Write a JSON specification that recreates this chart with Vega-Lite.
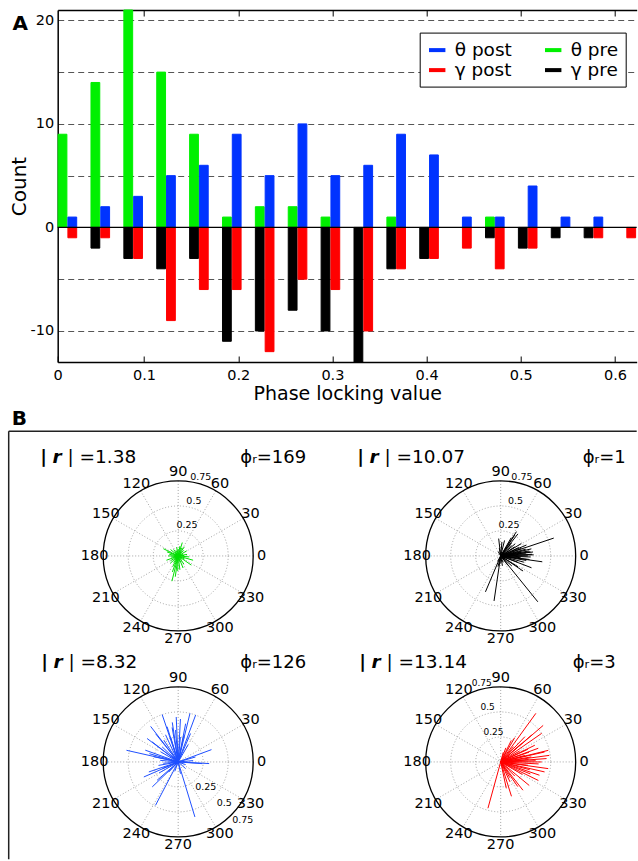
{
"$schema": "https://vega.github.io/schema/vega-lite/v6.json",
"padding": {"left": 7.7, "top": 9, "right": 0, "bottom": 0},
"autosize": {"type": "pad"},
"bounds": "flush",
"spacing": 69.25,
"config": {
  "font": "DejaVu Sans",
  "view": {"stroke": null},
  "axis": {"labelFont": "DejaVu Sans", "titleFont": "DejaVu Sans", "labelColor": "#000", "titleColor": "#000", "titleFontWeight": "normal"},
  "legend": {"labelFont": "DejaVu Sans"},
  "text": {"font": "DejaVu Sans", "color": "#000"}
},
"datasets": {
  "hist": [
    {"plv":0.0187,"series":"θ pre","count":9},{"plv":0.0187,"series":"θ post","count":1},{"plv":0.0187,"series":"γ post","count":-1},
    {"plv":0.0536,"series":"θ pre","count":14},{"plv":0.0536,"series":"θ post","count":2},{"plv":0.0536,"series":"γ pre","count":-2},{"plv":0.0536,"series":"γ post","count":-1},
    {"plv":0.0885,"series":"θ pre","count":21},{"plv":0.0885,"series":"θ post","count":3},{"plv":0.0885,"series":"γ pre","count":-3},{"plv":0.0885,"series":"γ post","count":-3},
    {"plv":0.1234,"series":"θ pre","count":15},{"plv":0.1234,"series":"θ post","count":5},{"plv":0.1234,"series":"γ pre","count":-4},{"plv":0.1234,"series":"γ post","count":-9},
    {"plv":0.1583,"series":"θ pre","count":9},{"plv":0.1583,"series":"θ post","count":6},{"plv":0.1583,"series":"γ pre","count":-3},{"plv":0.1583,"series":"γ post","count":-6},
    {"plv":0.1932,"series":"θ pre","count":1},{"plv":0.1932,"series":"θ post","count":9},{"plv":0.1932,"series":"γ pre","count":-11},{"plv":0.1932,"series":"γ post","count":-6},
    {"plv":0.2281,"series":"θ pre","count":2},{"plv":0.2281,"series":"θ post","count":5},{"plv":0.2281,"series":"γ pre","count":-10},{"plv":0.2281,"series":"γ post","count":-12},
    {"plv":0.263,"series":"θ pre","count":2},{"plv":0.263,"series":"θ post","count":10},{"plv":0.263,"series":"γ pre","count":-8},{"plv":0.263,"series":"γ post","count":-5},
    {"plv":0.2979,"series":"θ pre","count":1},{"plv":0.2979,"series":"θ post","count":5},{"plv":0.2979,"series":"γ pre","count":-10},{"plv":0.2979,"series":"γ post","count":-6},
    {"plv":0.3328,"series":"θ post","count":6},{"plv":0.3328,"series":"γ pre","count":-13},{"plv":0.3328,"series":"γ post","count":-10},
    {"plv":0.3677,"series":"θ pre","count":1},{"plv":0.3677,"series":"θ post","count":9},{"plv":0.3677,"series":"γ pre","count":-4},{"plv":0.3677,"series":"γ post","count":-4},
    {"plv":0.4026,"series":"θ post","count":7},{"plv":0.4026,"series":"γ pre","count":-3},{"plv":0.4026,"series":"γ post","count":-3},
    {"plv":0.4375,"series":"θ post","count":1},{"plv":0.4375,"series":"γ post","count":-2},
    {"plv":0.4724,"series":"θ pre","count":1},{"plv":0.4724,"series":"θ post","count":1},{"plv":0.4724,"series":"γ pre","count":-1},{"plv":0.4724,"series":"γ post","count":-4},
    {"plv":0.5073,"series":"θ post","count":4},{"plv":0.5073,"series":"γ pre","count":-2},{"plv":0.5073,"series":"γ post","count":-2},
    {"plv":0.5422,"series":"θ post","count":1},{"plv":0.5422,"series":"γ pre","count":-1},
    {"plv":0.5771,"series":"θ post","count":1},{"plv":0.5771,"series":"γ pre","count":-1},{"plv":0.5771,"series":"γ post","count":-1},
    {"plv":0.612,"series":"γ post","count":-1}
  ],
  "rings": [{"v":0.25,"t":"0.25"},{"v":0.5,"t":"0.5"},{"v":0.75,"t":"0.75"}],
  "radials": [{"a":0},{"a":30},{"a":60},{"a":90},{"a":120},{"a":150}],
  "angles": [{"a":0,"t":"0"},{"a":30,"t":"30"},{"a":60,"t":"60"},{"a":90,"t":"90"},{"a":120,"t":"120"},{"a":150,"t":"150"},{"a":180,"t":"180"},{"a":210,"t":"210"},{"a":240,"t":"240"},{"a":270,"t":"270"},{"a":300,"t":"300"},{"a":330,"t":"330"}],
  "titles": [{"p":1,"rv":"1.38","phi":"169"},{"p":2,"rv":"10.07","phi":"1"},{"p":3,"rv":"8.32","phi":"126"},{"p":4,"rv":"13.14","phi":"3"}],
  "spokes": [
    {"p":1,"a":256,"r":0.26},{"p":1,"a":262,"r":0.21},{"p":1,"a":250,"r":0.17},{"p":1,"a":268,"r":0.15},{"p":1,"a":277,"r":0.14},{"p":1,"a":292,"r":0.13},{"p":1,"a":305,"r":0.1},{"p":1,"a":325,"r":0.16},{"p":1,"a":344,"r":0.155},{"p":1,"a":355,"r":0.11},{"p":1,"a":10,"r":0.09},{"p":1,"a":31,"r":0.1},{"p":1,"a":45,"r":0.08},{"p":1,"a":56,"r":0.11},{"p":1,"a":65,"r":0.09},{"p":1,"a":73,"r":0.14},{"p":1,"a":80,"r":0.1},{"p":1,"a":90,"r":0.07},{"p":1,"a":100,"r":0.09},{"p":1,"a":112,"r":0.06},{"p":1,"a":125,"r":0.08},{"p":1,"a":140,"r":0.1},{"p":1,"a":154,"r":0.165},{"p":1,"a":160,"r":0.12},{"p":1,"a":170,"r":0.09},{"p":1,"a":180,"r":0.1},{"p":1,"a":190,"r":0.07},{"p":1,"a":200,"r":0.125},{"p":1,"a":212,"r":0.09},{"p":1,"a":223,"r":0.11},{"p":1,"a":235,"r":0.08},{"p":1,"a":243,"r":0.12},{"p":1,"a":285,"r":0.06},{"p":1,"a":315,"r":0.05},{"p":1,"a":335,"r":0.07},{"p":1,"a":20,"r":0.05},{"p":1,"a":130,"r":0.05},{"p":1,"a":205,"r":0.04},{"p":1,"a":240,"r":0.05},{"p":1,"a":5,"r":0.06},
    {"p":2,"a":18.6,"r":0.56},{"p":2,"a":352,"r":0.42},{"p":2,"a":309,"r":0.59},{"p":2,"a":261.6,"r":0.455},{"p":2,"a":247,"r":0.39},{"p":2,"a":96.6,"r":0.175},{"p":2,"a":57,"r":0.29},{"p":2,"a":52,"r":0.28},{"p":2,"a":56,"r":0.25},{"p":2,"a":60,"r":0.21},{"p":2,"a":31,"r":0.24},{"p":2,"a":23,"r":0.28},{"p":2,"a":13,"r":0.315},{"p":2,"a":7,"r":0.326},{"p":2,"a":3,"r":0.314},{"p":2,"a":358,"r":0.3},{"p":2,"a":353,"r":0.29},{"p":2,"a":339,"r":0.33},{"p":2,"a":326,"r":0.27},{"p":2,"a":328,"r":0.205},{"p":2,"a":11,"r":0.21},{"p":2,"a":33,"r":0.166},{"p":2,"a":50,"r":0.17},{"p":2,"a":76,"r":0.16},{"p":2,"a":85,"r":0.14},{"p":2,"a":256,"r":0.11},{"p":2,"a":308,"r":0.12},{"p":2,"a":0,"r":0.27},{"p":2,"a":5,"r":0.25},{"p":2,"a":10,"r":0.29},{"p":2,"a":15,"r":0.26},{"p":2,"a":20,"r":0.22},{"p":2,"a":25,"r":0.2},{"p":2,"a":40,"r":0.19},{"p":2,"a":45,"r":0.15},{"p":2,"a":350,"r":0.26},{"p":2,"a":345,"r":0.24},{"p":2,"a":355,"r":0.2},{"p":2,"a":340,"r":0.18},{"p":2,"a":318,"r":0.15},{"p":2,"a":2,"r":0.33},{"p":2,"a":8,"r":0.3},{"p":2,"a":265,"r":0.08},{"p":2,"a":280,"r":0.1},{"p":2,"a":290,"r":0.07},{"p":2,"a":240,"r":0.06},{"p":2,"a":120,"r":0.05},{"p":2,"a":100,"r":0.08},
    {"p":3,"a":108.7,"r":0.5},{"p":3,"a":92.5,"r":0.45},{"p":3,"a":76.4,"r":0.5},{"p":3,"a":69.6,"r":0.5},{"p":3,"a":79,"r":0.39},{"p":3,"a":87,"r":0.43},{"p":3,"a":98.5,"r":0.4},{"p":3,"a":107.5,"r":0.37},{"p":3,"a":127.8,"r":0.45},{"p":3,"a":128.7,"r":0.36},{"p":3,"a":143,"r":0.39},{"p":3,"a":142.4,"r":0.33},{"p":3,"a":167.3,"r":0.53},{"p":3,"a":160.3,"r":0.35},{"p":3,"a":164,"r":0.3},{"p":3,"a":168,"r":0.25},{"p":3,"a":203.6,"r":0.375},{"p":3,"a":198.8,"r":0.31},{"p":3,"a":223.9,"r":0.36},{"p":3,"a":221,"r":0.28},{"p":3,"a":242.4,"r":0.49},{"p":3,"a":286.9,"r":0.575},{"p":3,"a":20.3,"r":0.355},{"p":3,"a":357,"r":0.31},{"p":3,"a":356,"r":0.24},{"p":3,"a":16,"r":0.18},{"p":3,"a":66.5,"r":0.31},{"p":3,"a":78,"r":0.27},{"p":3,"a":94.8,"r":0.32},{"p":3,"a":107,"r":0.26},{"p":3,"a":123.5,"r":0.26},{"p":3,"a":136.8,"r":0.22},{"p":3,"a":190,"r":0.2},{"p":3,"a":202.6,"r":0.17},{"p":3,"a":227,"r":0.14},{"p":3,"a":281,"r":0.12},{"p":3,"a":318,"r":0.1},{"p":3,"a":60,"r":0.2},{"p":3,"a":115,"r":0.3},{"p":3,"a":150,"r":0.2},{"p":3,"a":175,"r":0.18},{"p":3,"a":185,"r":0.15},{"p":3,"a":210,"r":0.22},{"p":3,"a":250,"r":0.1},{"p":3,"a":5,"r":0.15},{"p":3,"a":340,"r":0.08},{"p":3,"a":100,"r":0.35},{"p":3,"a":85,"r":0.25},
    {"p":4,"a":54.1,"r":0.6},{"p":4,"a":40.7,"r":0.56},{"p":4,"a":34.9,"r":0.5},{"p":4,"a":41,"r":0.41},{"p":4,"a":46.2,"r":0.35},{"p":4,"a":60.1,"r":0.28},{"p":4,"a":63.8,"r":0.24},{"p":4,"a":41.6,"r":0.28},{"p":4,"a":26.1,"r":0.38},{"p":4,"a":13.7,"r":0.49},{"p":4,"a":12.8,"r":0.45},{"p":4,"a":7.7,"r":0.49},{"p":4,"a":4.2,"r":0.46},{"p":4,"a":0,"r":0.41},{"p":4,"a":352,"r":0.48},{"p":4,"a":347.2,"r":0.45},{"p":4,"a":341.1,"r":0.41},{"p":4,"a":333.8,"r":0.42},{"p":4,"a":320.5,"r":0.37},{"p":4,"a":308.2,"r":0.36},{"p":4,"a":304.7,"r":0.3},{"p":4,"a":287.4,"r":0.36},{"p":4,"a":282,"r":0.27},{"p":4,"a":254.6,"r":0.48},{"p":4,"a":353,"r":0.275},{"p":4,"a":9.3,"r":0.31},{"p":4,"a":19,"r":0.3},{"p":4,"a":30,"r":0.22},{"p":4,"a":50,"r":0.2},{"p":4,"a":70,"r":0.15},{"p":4,"a":2,"r":0.35},{"p":4,"a":357,"r":0.38},{"p":4,"a":345,"r":0.3},{"p":4,"a":330,"r":0.25},{"p":4,"a":315,"r":0.2},{"p":4,"a":300,"r":0.18},{"p":4,"a":20,"r":0.4},{"p":4,"a":25,"r":0.3},{"p":4,"a":15,"r":0.25},{"p":4,"a":5,"r":0.28},{"p":4,"a":338,"r":0.32},{"p":4,"a":295,"r":0.22},{"p":4,"a":75,"r":0.1}
  ]
},
"vconcat": [
{
  "width": 628, "height": 352,
  "resolve": {"axis": {"x": "independent", "y": "independent"}},
  "layer": [
    {
      "data": {"name": "hist"},
      "transform": [{"filter": "indexof(datum.series, 'pre') >= 0"}],
      "mark": {"type": "bar", "width": 8.8, "xOffset": -4.9},
      "encoding": {
        "x": {"field": "plv", "type": "quantitative", "scale": {"domain": [0.0084, 0.623], "range": [49, 628], "padding": 0, "nice": false, "zero": false},
              "axis": {"orient": "bottom", "values": [0.0084, 0.1, 0.2, 0.3, 0.4, 0.5, 0.6], "labelExpr": "datum.value < 0.05 ? '0' : format(datum.value, '.1f')", "labelFlush": false, "labelOverlap": false, "tickSize": -6, "tickColor": "#000", "tickWidth": 1, "labelPadding": 12, "labelFontSize": 14.5, "domain": true, "domainColor": "#000", "domainWidth": 1.5, "grid": false, "title": "Phase locking value", "titleFontSize": 19, "titlePadding": 3}},
        "y": {"field": "count", "type": "quantitative", "stack": null, "scale": {"domain": [-13, 21], "nice": false},
              "axis": {"orient": "left", "offset": -49, "values": [-10, -5, 0, 5, 10, 15, 20], "labelExpr": "datum.value % 10 === 0 ? '' + datum.value : ''", "ticks": false, "labelPadding": 4, "labelFontSize": 14.5, "domain": true, "domainColor": "#000", "domainWidth": 1.5, "grid": true, "gridColor": "#555", "gridDash": [6, 4], "gridWidth": 1, "title": "Count", "titleFontSize": 20, "titlePadding": 1}},
        "fill": {"field": "series", "type": "nominal", "scale": {"domain": ["θ post", "γ post", "θ pre", "γ pre"], "range": ["#0033ff", "#ff0000", "#00f000", "#000000"]},
                 "legend": {"title": null, "orient": "none", "legendX": 411, "legendY": 22.6, "columns": 2, "symbolType": "stroke", "symbolSize": 270, "symbolStrokeWidth": 4, "labelFontSize": 18.5, "labelOffset": 7, "columnPadding": 24, "rowPadding": 0, "padding": 7, "strokeColor": "#000", "fillColor": "#fff", "labelLimit": 0, "encode": {"symbols": {"update": {"strokeWidth": {"value": 4}}}}}},
        "stroke": {"field": "series", "type": "nominal", "scale": {"domain": ["θ post", "γ post", "θ pre", "γ pre"], "range": ["#0033ff", "#ff0000", "#00f000", "#000000"]},
                   "legend": {"title": null, "orient": "none", "legendX": 411, "legendY": 22.6, "columns": 2, "symbolType": "stroke", "symbolSize": 270, "symbolStrokeWidth": 4, "labelFontSize": 18.5, "labelOffset": 7, "columnPadding": 24, "rowPadding": 0, "padding": 7, "strokeColor": "#000", "fillColor": "#fff", "labelLimit": 0, "encode": {"symbols": {"update": {"strokeWidth": {"value": 4}}}}}}
      }
    },
    {
      "data": {"name": "hist"},
      "transform": [{"filter": "indexof(datum.series, 'post') >= 0"}],
      "mark": {"type": "bar", "width": 8.8, "xOffset": 4.9},
      "encoding": {
        "x": {"field": "plv", "type": "quantitative", "axis": null},
        "y": {"field": "count", "type": "quantitative", "stack": null, "axis": null},
        "fill": {"field": "series", "type": "nominal", "scale": {"domain": ["θ post", "γ post", "θ pre", "γ pre"], "range": ["#0033ff", "#ff0000", "#00f000", "#000000"]},
                 "legend": {"title": null, "orient": "none", "legendX": 411, "legendY": 22.6, "columns": 2, "symbolType": "stroke", "symbolSize": 270, "symbolStrokeWidth": 4, "labelFontSize": 18.5, "labelOffset": 7, "columnPadding": 24, "rowPadding": 0, "padding": 7, "strokeColor": "#000", "fillColor": "#fff", "labelLimit": 0, "encode": {"symbols": {"update": {"strokeWidth": {"value": 4}}}}}},
        "stroke": {"field": "series", "type": "nominal", "scale": {"domain": ["θ post", "γ post", "θ pre", "γ pre"], "range": ["#0033ff", "#ff0000", "#00f000", "#000000"]},
                   "legend": {"title": null, "orient": "none", "legendX": 411, "legendY": 22.6, "columns": 2, "symbolType": "stroke", "symbolSize": 270, "symbolStrokeWidth": 4, "labelFontSize": 18.5, "labelOffset": 7, "columnPadding": 24, "rowPadding": 0, "padding": 7, "strokeColor": "#000", "fillColor": "#fff", "labelLimit": 0, "encode": {"symbols": {"update": {"strokeWidth": {"value": 4}}}}}}
      }
    },
    {
      "data": {"values": [{}]},
      "mark": {"type": "rule", "color": "#000", "strokeWidth": 1.3},
      "encoding": {"x": {"datum": 0.0084, "type": "quantitative", "axis": null}, "x2": {"datum": 0.623}, "y": {"datum": 0, "type": "quantitative", "axis": null}}
    },
    {
      "data": {"values": [{}]},
      "mark": {"type": "rule", "opacity": 0},
      "encoding": {"x": {"datum": 0.3, "type": "quantitative",
        "axis": {"orient": "top", "values": [0.1, 0.2, 0.3, 0.4, 0.5, 0.6], "labels": false, "tickSize": -6, "tickColor": "#000", "tickWidth": 1, "domain": true, "domainColor": "#000", "domainWidth": 1.5, "grid": false, "title": null}}}
    },
    {
      "data": {"values": [{}]},
      "mark": {"type": "text", "text": "A", "fontSize": 20, "fontWeight": "bold", "align": "left", "baseline": "alphabetic", "dx": -45.3, "dy": 20.3},
      "encoding": {"x": {"datum": 0.0084, "type": "quantitative", "axis": null}, "y": {"datum": 21, "type": "quantitative", "axis": null}}
    },
    {
      "data": {"values": [{}]},
      "mark": {"type": "text", "text": "B", "fontSize": 20, "fontWeight": "bold", "align": "left", "baseline": "alphabetic", "dx": -46, "dy": 63},
      "encoding": {"x": {"datum": 0.0084, "type": "quantitative", "axis": null}, "y": {"datum": -13, "type": "quantitative", "axis": null}}
    }
  ]
},
{
  "width": 628, "height": 428,
  "resolve": {"scale": {"x": "independent", "y": "independent"}},
  "layer": [
    {
      "data": {"values": [{}]},
      "layer": [
        {"mark": {"type": "rule", "color": "#222", "strokeWidth": 1.5}, "encoding": {"x": {"datum": 0, "type": "quantitative", "scale": {"domain": [0, 1]}, "axis": null}}},
        {"mark": {"type": "rule", "color": "#222", "strokeWidth": 1.5}, "encoding": {"y": {"datum": 1, "type": "quantitative", "scale": {"domain": [0, 1]}, "axis": null}}}
      ]
    },
    {
      "encoding": {
        "x": {"field": "px", "type": "quantitative", "scale": {"domain": [-1.695, 4.585], "nice": false, "zero": false}, "axis": null},
        "y": {"field": "py", "type": "quantitative", "scale": {"domain": [-3.033, 1.247], "nice": false, "zero": false}, "axis": null}
      },
      "layer": [
        {"data": {"name": "rings"}, "transform": [{"filter": "datum.v < 0.7"}, {"calculate": "0", "as": "px"}, {"calculate": "0", "as": "py"}], "mark": {"type": "point", "shape": "circle", "filled": false, "color": "#9a9a9a", "strokeWidth": 0.9, "strokeDash": [1, 2], "opacity": 1}, "encoding": {"size": {"field": "v", "type": "quantitative", "scale": {"type": "pow", "exponent": 2, "domain": [0, 0.75], "range": [0, 22500]}, "legend": null}}},
        {"data": {"name": "radials"}, "transform": [{"calculate": "0.75*cos(datum.a*PI/180)", "as": "px"}, {"calculate": "0.75*sin(datum.a*PI/180)", "as": "py"}, {"calculate": "-datum.px", "as": "qx"}, {"calculate": "-datum.py", "as": "qy"}], "mark": {"type": "rule", "color": "#9a9a9a", "strokeWidth": 0.9, "strokeDash": [1, 2]}, "encoding": {"x2": {"field": "qx"}, "y2": {"field": "qy"}}},
        {"data": {"name": "rings"}, "transform": [{"filter": "datum.v > 0.7"}, {"calculate": "0", "as": "px"}, {"calculate": "0", "as": "py"}], "mark": {"type": "point", "shape": "circle", "filled": false, "color": "#000", "strokeWidth": 1.3, "opacity": 1}, "encoding": {"size": {"field": "v", "type": "quantitative", "scale": {"type": "pow", "exponent": 2, "domain": [0, 0.75], "range": [0, 22500]}, "legend": null}}},
        {"data": {"name": "spokes"}, "transform": [{"filter": "datum.p == 1"}, {"calculate": "0", "as": "px"}, {"calculate": "0", "as": "py"}, {"calculate": "datum.r*cos(datum.a*PI/180)", "as": "qx"}, {"calculate": "datum.r*sin(datum.a*PI/180)", "as": "qy"}], "mark": {"type": "rule", "color": "#00e000", "strokeWidth": 1}, "encoding": {"x2": {"field": "qx"}, "y2": {"field": "qy"}}},
        {"data": {"name": "angles"}, "transform": [{"calculate": "0.835*cos(datum.a*PI/180)", "as": "px"}, {"calculate": "0.835*sin(datum.a*PI/180)", "as": "py"}], "mark": {"type": "text", "fontSize": 14.5, "align": "center", "baseline": "middle"}, "encoding": {"text": {"field": "t"}}},
        {"data": {"name": "rings"}, "transform": [{"calculate": "(datum.v+0.07)*cos(74*PI/180)", "as": "px"}, {"calculate": "(datum.v+0.07)*sin(74*PI/180)", "as": "py"}], "mark": {"type": "text", "fontSize": 9.5, "align": "center", "baseline": "middle"}, "encoding": {"text": {"field": "t"}}},
        {"data": {"name": "titles"}, "transform": [{"filter": "datum.p == 1"}, {"calculate": "-1.38", "as": "px"}, {"calculate": "0.925", "as": "py"}], "mark": {"type": "text", "text": "|", "fontSize": 18.5, "fontWeight": "bold", "align": "left", "baseline": "alphabetic"}},
        {"data": {"name": "titles"}, "transform": [{"filter": "datum.p == 1"}, {"calculate": "-1.38", "as": "px"}, {"calculate": "0.925", "as": "py"}], "mark": {"type": "text", "text": "r", "fontSize": 18.5, "fontWeight": "bold", "fontStyle": "italic", "align": "left", "baseline": "alphabetic", "dx": 12.3}},
        {"data": {"name": "titles"}, "transform": [{"filter": "datum.p == 1"}, {"calculate": "-1.38", "as": "px"}, {"calculate": "0.925", "as": "py"}, {"calculate": "'| =' + datum.rv", "as": "lab"}], "mark": {"type": "text", "fontSize": 18.5, "align": "left", "baseline": "alphabetic", "dx": 27.3}, "encoding": {"text": {"field": "lab"}}},
        {"data": {"name": "titles"}, "transform": [{"filter": "datum.p == 1"}, {"calculate": "1.28", "as": "px"}, {"calculate": "0.925", "as": "py"}, {"calculate": "'ϕᵣ=' + datum.phi", "as": "lab"}], "mark": {"type": "text", "fontSize": 18, "align": "right", "baseline": "alphabetic"}, "encoding": {"text": {"field": "lab"}}}
      ]
    },
    {
      "encoding": {
        "x": {"field": "px", "type": "quantitative", "scale": {"domain": [-4.92, 1.36], "nice": false, "zero": false}, "axis": null},
        "y": {"field": "py", "type": "quantitative", "scale": {"domain": [-3.033, 1.247], "nice": false, "zero": false}, "axis": null}
      },
      "layer": [
        {"data": {"name": "rings"}, "transform": [{"filter": "datum.v < 0.7"}, {"calculate": "0", "as": "px"}, {"calculate": "0", "as": "py"}], "mark": {"type": "point", "shape": "circle", "filled": false, "color": "#9a9a9a", "strokeWidth": 0.9, "strokeDash": [1, 2], "opacity": 1}, "encoding": {"size": {"field": "v", "type": "quantitative", "scale": {"type": "pow", "exponent": 2, "domain": [0, 0.75], "range": [0, 22500]}, "legend": null}}},
        {"data": {"name": "radials"}, "transform": [{"calculate": "0.75*cos(datum.a*PI/180)", "as": "px"}, {"calculate": "0.75*sin(datum.a*PI/180)", "as": "py"}, {"calculate": "-datum.px", "as": "qx"}, {"calculate": "-datum.py", "as": "qy"}], "mark": {"type": "rule", "color": "#9a9a9a", "strokeWidth": 0.9, "strokeDash": [1, 2]}, "encoding": {"x2": {"field": "qx"}, "y2": {"field": "qy"}}},
        {"data": {"name": "rings"}, "transform": [{"filter": "datum.v > 0.7"}, {"calculate": "0", "as": "px"}, {"calculate": "0", "as": "py"}], "mark": {"type": "point", "shape": "circle", "filled": false, "color": "#000", "strokeWidth": 1.3, "opacity": 1}, "encoding": {"size": {"field": "v", "type": "quantitative", "scale": {"type": "pow", "exponent": 2, "domain": [0, 0.75], "range": [0, 22500]}, "legend": null}}},
        {"data": {"name": "spokes"}, "transform": [{"filter": "datum.p == 2"}, {"calculate": "0", "as": "px"}, {"calculate": "0", "as": "py"}, {"calculate": "datum.r*cos(datum.a*PI/180)", "as": "qx"}, {"calculate": "datum.r*sin(datum.a*PI/180)", "as": "qy"}], "mark": {"type": "rule", "color": "#000000", "strokeWidth": 1}, "encoding": {"x2": {"field": "qx"}, "y2": {"field": "qy"}}},
        {"data": {"name": "angles"}, "transform": [{"calculate": "0.835*cos(datum.a*PI/180)", "as": "px"}, {"calculate": "0.835*sin(datum.a*PI/180)", "as": "py"}], "mark": {"type": "text", "fontSize": 14.5, "align": "center", "baseline": "middle"}, "encoding": {"text": {"field": "t"}}},
        {"data": {"name": "rings"}, "transform": [{"calculate": "(datum.v+0.07)*cos(75*PI/180)", "as": "px"}, {"calculate": "(datum.v+0.07)*sin(75*PI/180)", "as": "py"}], "mark": {"type": "text", "fontSize": 9.5, "align": "center", "baseline": "middle"}, "encoding": {"text": {"field": "t"}}},
        {"data": {"name": "titles"}, "transform": [{"filter": "datum.p == 2"}, {"calculate": "-1.435", "as": "px"}, {"calculate": "0.925", "as": "py"}], "mark": {"type": "text", "text": "|", "fontSize": 18.5, "fontWeight": "bold", "align": "left", "baseline": "alphabetic"}},
        {"data": {"name": "titles"}, "transform": [{"filter": "datum.p == 2"}, {"calculate": "-1.435", "as": "px"}, {"calculate": "0.925", "as": "py"}], "mark": {"type": "text", "text": "r", "fontSize": 18.5, "fontWeight": "bold", "fontStyle": "italic", "align": "left", "baseline": "alphabetic", "dx": 12.3}},
        {"data": {"name": "titles"}, "transform": [{"filter": "datum.p == 2"}, {"calculate": "-1.435", "as": "px"}, {"calculate": "0.925", "as": "py"}, {"calculate": "'| =' + datum.rv", "as": "lab"}], "mark": {"type": "text", "fontSize": 18.5, "align": "left", "baseline": "alphabetic", "dx": 27.3}, "encoding": {"text": {"field": "lab"}}},
        {"data": {"name": "titles"}, "transform": [{"filter": "datum.p == 2"}, {"calculate": "1.25", "as": "px"}, {"calculate": "0.925", "as": "py"}, {"calculate": "'ϕᵣ=' + datum.phi", "as": "lab"}], "mark": {"type": "text", "fontSize": 18, "align": "right", "baseline": "alphabetic"}, "encoding": {"text": {"field": "lab"}}}
      ]
    },
    {
      "encoding": {
        "x": {"field": "px", "type": "quantitative", "scale": {"domain": [-1.695, 4.585], "nice": false, "zero": false}, "axis": null},
        "y": {"field": "py", "type": "quantitative", "scale": {"domain": [-0.973, 3.307], "nice": false, "zero": false}, "axis": null}
      },
      "layer": [
        {"data": {"name": "rings"}, "transform": [{"filter": "datum.v < 0.7"}, {"calculate": "0", "as": "px"}, {"calculate": "0", "as": "py"}], "mark": {"type": "point", "shape": "circle", "filled": false, "color": "#9a9a9a", "strokeWidth": 0.9, "strokeDash": [1, 2], "opacity": 1}, "encoding": {"size": {"field": "v", "type": "quantitative", "scale": {"type": "pow", "exponent": 2, "domain": [0, 0.75], "range": [0, 22500]}, "legend": null}}},
        {"data": {"name": "radials"}, "transform": [{"calculate": "0.75*cos(datum.a*PI/180)", "as": "px"}, {"calculate": "0.75*sin(datum.a*PI/180)", "as": "py"}, {"calculate": "-datum.px", "as": "qx"}, {"calculate": "-datum.py", "as": "qy"}], "mark": {"type": "rule", "color": "#9a9a9a", "strokeWidth": 0.9, "strokeDash": [1, 2]}, "encoding": {"x2": {"field": "qx"}, "y2": {"field": "qy"}}},
        {"data": {"name": "rings"}, "transform": [{"filter": "datum.v > 0.7"}, {"calculate": "0", "as": "px"}, {"calculate": "0", "as": "py"}], "mark": {"type": "point", "shape": "circle", "filled": false, "color": "#000", "strokeWidth": 1.3, "opacity": 1}, "encoding": {"size": {"field": "v", "type": "quantitative", "scale": {"type": "pow", "exponent": 2, "domain": [0, 0.75], "range": [0, 22500]}, "legend": null}}},
        {"data": {"name": "spokes"}, "transform": [{"filter": "datum.p == 3"}, {"calculate": "0", "as": "px"}, {"calculate": "0", "as": "py"}, {"calculate": "datum.r*cos(datum.a*PI/180)", "as": "qx"}, {"calculate": "datum.r*sin(datum.a*PI/180)", "as": "qy"}], "mark": {"type": "rule", "color": "#1f4fff", "strokeWidth": 1}, "encoding": {"x2": {"field": "qx"}, "y2": {"field": "qy"}}},
        {"data": {"name": "angles"}, "transform": [{"calculate": "0.835*cos(datum.a*PI/180)", "as": "px"}, {"calculate": "0.835*sin(datum.a*PI/180)", "as": "py"}], "mark": {"type": "text", "fontSize": 14.5, "align": "center", "baseline": "middle"}, "encoding": {"text": {"field": "t"}}},
        {"data": {"name": "rings"}, "transform": [{"calculate": "(datum.v+0.12)*cos(-42*PI/180)", "as": "px"}, {"calculate": "(datum.v+0.12)*sin(-42*PI/180)", "as": "py"}], "mark": {"type": "text", "fontSize": 9.5, "align": "center", "baseline": "middle"}, "encoding": {"text": {"field": "t"}}},
        {"data": {"name": "titles"}, "transform": [{"filter": "datum.p == 3"}, {"calculate": "-1.37", "as": "px"}, {"calculate": "0.935", "as": "py"}], "mark": {"type": "text", "text": "|", "fontSize": 18.5, "fontWeight": "bold", "align": "left", "baseline": "alphabetic"}},
        {"data": {"name": "titles"}, "transform": [{"filter": "datum.p == 3"}, {"calculate": "-1.37", "as": "px"}, {"calculate": "0.935", "as": "py"}], "mark": {"type": "text", "text": "r", "fontSize": 18.5, "fontWeight": "bold", "fontStyle": "italic", "align": "left", "baseline": "alphabetic", "dx": 12.3}},
        {"data": {"name": "titles"}, "transform": [{"filter": "datum.p == 3"}, {"calculate": "-1.37", "as": "px"}, {"calculate": "0.935", "as": "py"}, {"calculate": "'| =' + datum.rv", "as": "lab"}], "mark": {"type": "text", "fontSize": 18.5, "align": "left", "baseline": "alphabetic", "dx": 27.3}, "encoding": {"text": {"field": "lab"}}},
        {"data": {"name": "titles"}, "transform": [{"filter": "datum.p == 3"}, {"calculate": "1.28", "as": "px"}, {"calculate": "0.935", "as": "py"}, {"calculate": "'ϕᵣ=' + datum.phi", "as": "lab"}], "mark": {"type": "text", "fontSize": 18, "align": "right", "baseline": "alphabetic"}, "encoding": {"text": {"field": "lab"}}}
      ]
    },
    {
      "encoding": {
        "x": {"field": "px", "type": "quantitative", "scale": {"domain": [-4.92, 1.36], "nice": false, "zero": false}, "axis": null},
        "y": {"field": "py", "type": "quantitative", "scale": {"domain": [-0.973, 3.307], "nice": false, "zero": false}, "axis": null}
      },
      "layer": [
        {"data": {"name": "rings"}, "transform": [{"filter": "datum.v < 0.7"}, {"calculate": "0", "as": "px"}, {"calculate": "0", "as": "py"}], "mark": {"type": "point", "shape": "circle", "filled": false, "color": "#9a9a9a", "strokeWidth": 0.9, "strokeDash": [1, 2], "opacity": 1}, "encoding": {"size": {"field": "v", "type": "quantitative", "scale": {"type": "pow", "exponent": 2, "domain": [0, 0.75], "range": [0, 22500]}, "legend": null}}},
        {"data": {"name": "radials"}, "transform": [{"calculate": "0.75*cos(datum.a*PI/180)", "as": "px"}, {"calculate": "0.75*sin(datum.a*PI/180)", "as": "py"}, {"calculate": "-datum.px", "as": "qx"}, {"calculate": "-datum.py", "as": "qy"}], "mark": {"type": "rule", "color": "#9a9a9a", "strokeWidth": 0.9, "strokeDash": [1, 2]}, "encoding": {"x2": {"field": "qx"}, "y2": {"field": "qy"}}},
        {"data": {"name": "rings"}, "transform": [{"filter": "datum.v > 0.7"}, {"calculate": "0", "as": "px"}, {"calculate": "0", "as": "py"}], "mark": {"type": "point", "shape": "circle", "filled": false, "color": "#000", "strokeWidth": 1.3, "opacity": 1}, "encoding": {"size": {"field": "v", "type": "quantitative", "scale": {"type": "pow", "exponent": 2, "domain": [0, 0.75], "range": [0, 22500]}, "legend": null}}},
        {"data": {"name": "spokes"}, "transform": [{"filter": "datum.p == 4"}, {"calculate": "0", "as": "px"}, {"calculate": "0", "as": "py"}, {"calculate": "datum.r*cos(datum.a*PI/180)", "as": "qx"}, {"calculate": "datum.r*sin(datum.a*PI/180)", "as": "qy"}], "mark": {"type": "rule", "color": "#ff0000", "strokeWidth": 1}, "encoding": {"x2": {"field": "qx"}, "y2": {"field": "qy"}}},
        {"data": {"name": "angles"}, "transform": [{"calculate": "0.835*cos(datum.a*PI/180)", "as": "px"}, {"calculate": "0.835*sin(datum.a*PI/180)", "as": "py"}], "mark": {"type": "text", "fontSize": 14.5, "align": "center", "baseline": "middle"}, "encoding": {"text": {"field": "t"}}},
        {"data": {"name": "rings"}, "transform": [{"calculate": "(datum.v+0.06)*cos(103.5*PI/180)", "as": "px"}, {"calculate": "(datum.v+0.06)*sin(103.5*PI/180)", "as": "py"}], "mark": {"type": "text", "fontSize": 9, "align": "center", "baseline": "middle"}, "encoding": {"text": {"field": "t"}}},
        {"data": {"name": "titles"}, "transform": [{"filter": "datum.p == 4"}, {"calculate": "-1.415", "as": "px"}, {"calculate": "0.935", "as": "py"}], "mark": {"type": "text", "text": "|", "fontSize": 18.5, "fontWeight": "bold", "align": "left", "baseline": "alphabetic"}},
        {"data": {"name": "titles"}, "transform": [{"filter": "datum.p == 4"}, {"calculate": "-1.415", "as": "px"}, {"calculate": "0.935", "as": "py"}], "mark": {"type": "text", "text": "r", "fontSize": 18.5, "fontWeight": "bold", "fontStyle": "italic", "align": "left", "baseline": "alphabetic", "dx": 12.3}},
        {"data": {"name": "titles"}, "transform": [{"filter": "datum.p == 4"}, {"calculate": "-1.415", "as": "px"}, {"calculate": "0.935", "as": "py"}, {"calculate": "'| =' + datum.rv", "as": "lab"}], "mark": {"type": "text", "fontSize": 18.5, "align": "left", "baseline": "alphabetic", "dx": 27.3}, "encoding": {"text": {"field": "lab"}}},
        {"data": {"name": "titles"}, "transform": [{"filter": "datum.p == 4"}, {"calculate": "1.15", "as": "px"}, {"calculate": "0.935", "as": "py"}, {"calculate": "'ϕᵣ=' + datum.phi", "as": "lab"}], "mark": {"type": "text", "fontSize": 18, "align": "right", "baseline": "alphabetic"}, "encoding": {"text": {"field": "lab"}}}
      ]
    }
  ]
}
]
}
